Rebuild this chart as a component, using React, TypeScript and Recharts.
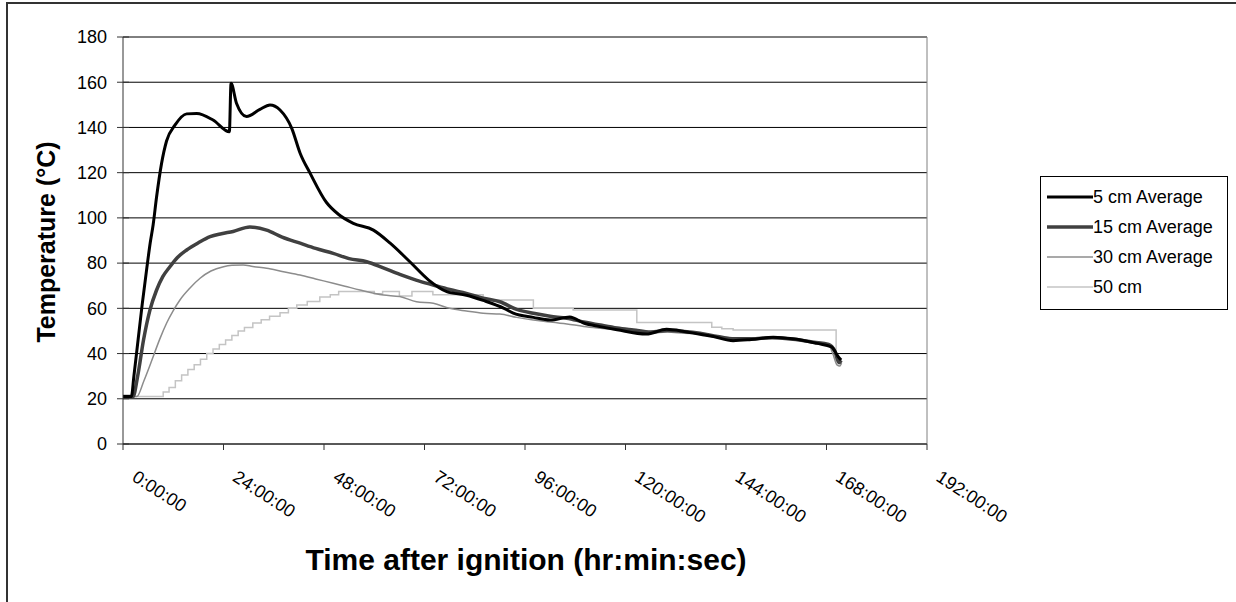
import React from 'react';
import { LineChart, Line, XAxis, YAxis, CartesianGrid, Legend, ReferenceLine, Label } from 'recharts';

// hours after ignition and temperature (°C) for each depth
const t5 = [0, 2, 2.6, 3.6, 4.6, 5.7, 6.5, 7.2, 8, 9.2, 10.4, 12.4, 15.2, 17.6, 21.5, 25.4, 25.8, 27.1, 29.5, 32.7, 35.1, 37.5, 40.3, 42.3, 44.7, 48.6, 51.5, 55, 59.8, 63.8, 68.5, 73, 77.3, 82, 86, 91, 93.2, 98, 102, 106.7, 110, 113.9, 118, 125, 129.8, 134, 137.8, 141, 145.7, 150, 155.3, 160, 165.7, 169.2, 170.8, 171.5];
const v5 = [21, 21, 30, 46, 62, 78, 89, 97, 109, 124, 134, 141, 146, 146.2, 143.3, 138.1, 159.5, 150.7, 144.8, 148, 149.9, 147.7, 139.6, 128.6, 119.7, 106.8, 101.5, 97.6, 94.6, 88.8, 80.6, 72.5, 67.4, 65.8, 63.5, 60, 57.9, 56, 54.8, 56.2, 53.5, 51.9, 50.5, 48.6, 50.7, 49.8, 48.5, 47.5, 45.7, 46.2, 47.2, 46.5, 44.5, 43, 38.6, 37.1];

const t15 = [0, 2.4, 3.5, 4.9, 6.4, 8, 9.5, 11.2, 13, 15.2, 18, 20.8, 23.5, 26.3, 30.3, 34.3, 38, 42.3, 46, 50.2, 54, 58.2, 62, 66.1, 70, 74.1, 78, 82, 86, 90, 94, 98, 102, 106, 110, 114, 118, 121.9, 126, 130, 134, 137.8, 142, 146, 150, 155, 160, 165, 168.5, 170, 171, 171.5];
const v15 = [21, 21, 30, 46, 59, 68, 74, 78.4, 82.5, 85.8, 89, 91.7, 93, 94, 96, 94.6, 91.5, 88.8, 86.5, 84.3, 82, 80.6, 78, 75, 72.5, 70.3, 68.3, 66.6, 64.5, 62.9, 59.5, 57.8, 56.5, 55.6, 54, 52.6, 51.3, 50.4, 49.5, 50.2, 49.8, 49, 47.5, 46.5, 46.5, 47, 46.3, 45, 44, 41, 36, 37];

const t30 = [0, 3.3, 5, 7.2, 8.8, 10.4, 12, 13.6, 16, 18.4, 21, 24, 26, 28.7, 31, 34.3, 38, 42.3, 46, 50.2, 53, 56.6, 62.2, 66.1, 70.1, 74.1, 78, 82, 86, 90, 94, 98, 102, 106, 110, 114, 118, 122, 126, 130, 134, 137.8, 142, 146, 150, 155, 160, 165, 168.5, 169.5, 170.5, 171.2, 171.6];
const v30 = [21, 21, 28, 38.6, 46.5, 53.4, 59, 63.7, 69, 73.3, 76.5, 78.4, 79, 79.2, 78.5, 77.7, 76.3, 74.7, 73, 71.1, 69.8, 68.1, 65.9, 65.2, 62.9, 62.2, 60, 58.8, 57.8, 57.5, 56, 54.8, 54, 53.1, 52, 51.2, 50.5, 49.7, 49.2, 49.5, 49, 48.8, 47.5, 46.8, 46.5, 46.8, 46, 45, 44, 40, 35, 34.5, 36];

const t50 = [0, 9.6, 11, 12.5, 14, 15.5, 17, 18.5, 20, 21.5, 23, 24.5, 26, 27.5, 29, 31, 33, 35, 37.5, 39.5, 41.5, 44, 47, 49.5, 51.5, 60, 62, 66, 69, 74, 86, 98, 107.5, 122.7, 140.6, 143, 145.7, 170.3, 171, 171.5];
const v50 = [21, 23, 25, 28, 30.5, 33, 35, 37.5, 40, 42, 44, 46, 48, 50, 51.5, 53.5, 55, 56.5, 58, 60, 61.5, 63, 65, 66, 67.5, 66.5, 67.5, 65.5, 67.5, 66, 63.7, 60, 59.3, 53.7, 51.6, 51, 50.4, 36.5, 35.5, 37];

const xTicks = [0, 24, 48, 72, 96, 120, 144, 168, 192];
const yTicks = [0, 20, 40, 60, 80, 100, 120, 140, 160, 180];

const seriesNames = ['5 cm Average', '15 cm Average', '30 cm Average', '50 cm'];
const seriesColors = ['#000000', '#404040', '#8c8c8c', '#c4c4c4'];
const seriesWidths = [3, 3.5, 1.5, 1.5];

const zip = (ts: number[], vs: number[]) => ts.map((t, i) => ({ t, v: vs[i] }));

const series = [zip(t5, v5), zip(t15, v15), zip(t30, v30), zip(t50, v50)];

const FONT = 'Arial, "Liberation Sans", sans-serif';

const XTick = (props: any) => {
  const { x, y, payload } = props;
  return (
    <text
      transform={`translate(${x + 8},${y + 28}) rotate(33)`}
      fontSize={18}
      fontFamily={FONT}
      fill="#000"
    >
      {`${payload.value}:00:00`}
    </text>
  );
};

const YTick = (props: any) => {
  const { x, y, payload } = props;
  return (
    <g>
      <line x1={x + 8} x2={x + 14} y1={y} y2={y} stroke="#333" />
      <text x={x - 8} y={y} dy="0.35em" textAnchor="end" fontSize={18} fontFamily={FONT} fill="#000">
        {payload.value}
      </text>
    </g>
  );
};

const LegendBox = () => (
  <div
    style={{
      border: '1px solid #000',
      background: '#fff',
      padding: '5px 0 7px 6px',
      fontFamily: FONT,
      fontSize: 18,
    }}
  >
    {seriesNames.map((name, i) => (
      <div key={name} style={{ display: 'flex', alignItems: 'center', height: 30 }}>
        <svg width={46} height={10}>
          <line x1={0} x2={46} y1={5} y2={5} stroke={seriesColors[i]} strokeWidth={seriesWidths[i]} />
        </svg>
        <span>{name}</span>
      </div>
    ))}
  </div>
);

export default function App() {
  return (
    <div style={{ position: 'absolute', left: 0, top: 0, width: 1236, height: 602, overflow: 'hidden', background: '#fff' }}>
      <div
        style={{
          position: 'absolute',
          left: 6,
          top: 2,
          width: 1260,
          height: 640,
          border: '2px solid #333',
        }}
      />
      <div style={{ position: 'absolute', left: 0, top: 0 }}>
        <LineChart width={1236} height={602} margin={{ top: 37, right: 309, bottom: 0, left: 63 }}>
          <CartesianGrid horizontal vertical={false} stroke="#000" />
          <XAxis
            type="number"
            dataKey="t"
            domain={[0, 192]}
            ticks={xTicks}
            interval={0}
            height={158}
            stroke="#333"
            tick={<XTick />}
          >
            <Label
              content={() => (
                <text x={526} y={570} textAnchor="middle" fontSize={30} fontWeight="bold" fontFamily={FONT} fill="#000">
                  Time after ignition (hr:min:sec)
                </text>
              )}
            />
          </XAxis>
          <YAxis
            type="number"
            dataKey="v"
            domain={[0, 180]}
            ticks={yTicks}
            interval={0}
            width={60}
            stroke="#333"
            tick={<YTick />}
          >
            <Label
              content={() => (
                <text
                  transform="translate(55,242) rotate(-90)"
                  textAnchor="middle"
                  fontSize={25}
                  fontWeight="bold"
                  fontFamily={FONT}
                  fill="#000"
                >
                  Temperature (°C)
                </text>
              )}
            />
          </YAxis>
          <ReferenceLine x={192} stroke="#808080" />
          <Legend
            layout="vertical"
            align="center"
            verticalAlign="middle"
            wrapperStyle={{ left: 1040, top: 176, width: 188 }}
            content={<LegendBox />}
          />
          {series.map((d, i) => (
            <Line
              key={seriesNames[i]}
              data={d}
              dataKey="v"
              name={seriesNames[i]}
              type={i === 3 ? 'stepAfter' : 'monotone'}
              stroke={seriesColors[i]}
              strokeWidth={seriesWidths[i]}
              dot={false}
              isAnimationActive={false}
            />
          )).reverse()}
        </LineChart>
      </div>
    </div>
  );
}
